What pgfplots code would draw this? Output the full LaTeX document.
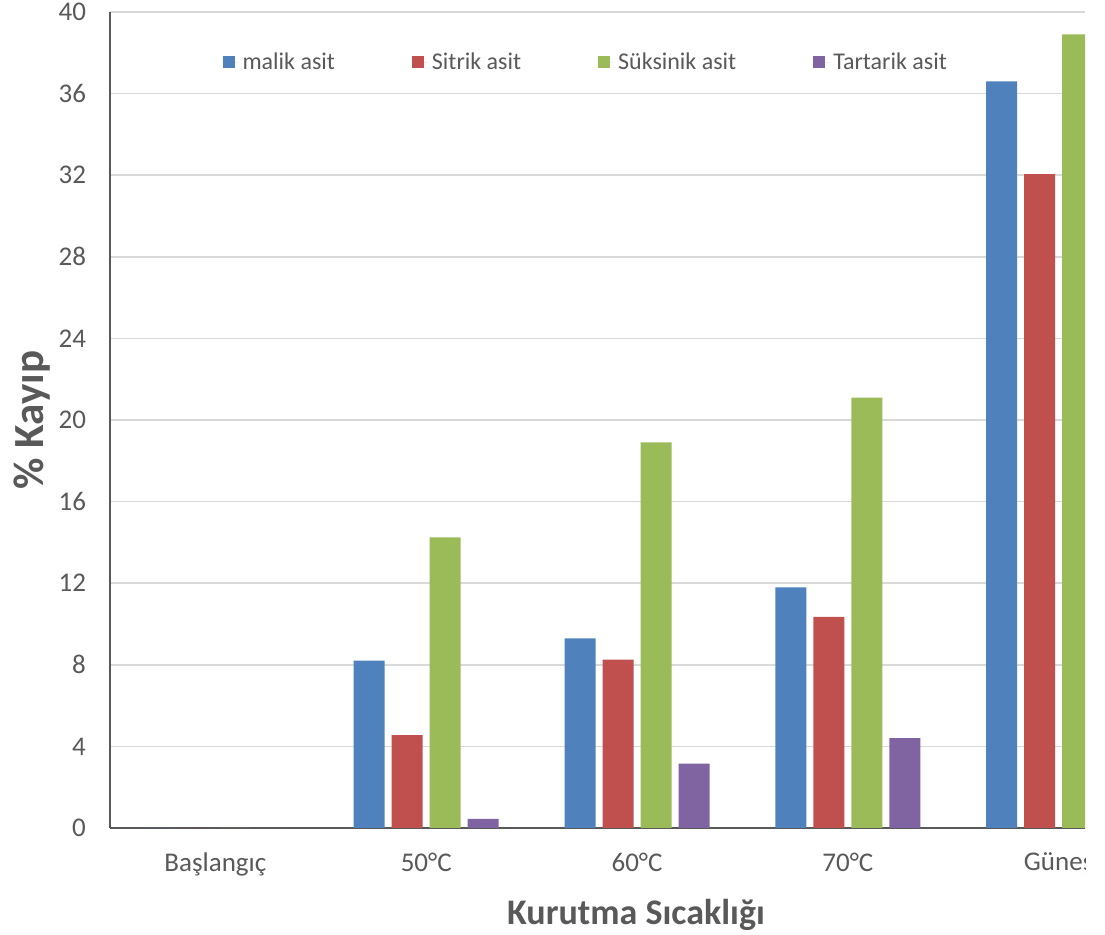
\documentclass[border=0pt]{standalone}
\usepackage{fontspec}
\setmainfont{Carlito}
\usepackage{pgfplots}
\pgfplotsset{compat=1.18}

\definecolor{cblue}{HTML}{4F81BD}
\definecolor{cred}{HTML}{C0504D}
\definecolor{cgreen}{HTML}{9BBB59}
\definecolor{cpurple}{HTML}{8064A2}
\definecolor{txt}{HTML}{595959}
\definecolor{gridc}{HTML}{D9D9D9}
\definecolor{axc}{HTML}{595959}

\begin{document}
\begin{tikzpicture}
\useasboundingbox (-55pt,-53.5pt) rectangle (497.5pt,414pt);
% the chart is trimmed on its right side
\clip (-55pt,-53.5pt) rectangle (487.5pt,414pt);
\begin{axis}[
  at={(0pt,0pt)}, anchor=south west,
  scale only axis, width=487.5pt, height=408pt,
  ybar=3.5pt, bar width=15.5pt,
  xmin=-0.5, xmax=4.125,
  ymin=0, ymax=40,
  ytick={0,4,...,40},
  xtick={0,1,2,3,4},
  xticklabels={Başlangıç,50°C,60°C,70°C,Güneş},
  axis x line*=bottom, axis y line*=left,
  axis line style={axc, line width=0.9pt},
  ymajorgrids, grid style={gridc, line width=0.75pt},
  major tick length=0pt,
  /pgf/number format/assume math mode=true,
  tick label style={font=\fontsize{13.5}{16}\selectfont, text=txt},
  yticklabel style={xshift=-8.5pt},
  xticklabel style={yshift=-9pt},
  ylabel={\% Kayıp},
  ylabel style={at={(axis description cs:-0.08,0.5)}, anchor=center,
    font=\bfseries\fontsize{21.5}{24}\selectfont, text=txt},
  xlabel={Kurutma Sıcaklığı},
  xlabel style={at={(axis description cs:0.5395,-0.106)}, anchor=center,
    font=\bfseries\fontsize{18}{22}\selectfont, text=txt},
  legend columns=4,
  legend style={draw=none, fill=none, inner sep=0pt,
    at={(axis description cs:0.115,0.9385)}, anchor=west,
    font=\fontsize{12}{14}\selectfont, text=txt,
    /tikz/every even column/.append style={column sep=36.5pt}},
  legend image code/.code={%
    \fill[#1] (0pt,-3pt) rectangle (6pt,3pt);
    \path (0pt,0pt) -- (8pt,0pt);},
]
\addplot[fill=cblue, draw=none]
  coordinates {(0,0) (1,8.2) (2,9.3) (3,11.8) (4,36.6)};
\addplot[fill=cred, draw=none]
  coordinates {(0,0) (1,4.55) (2,8.25) (3,10.35) (4,32.05)};
\addplot[fill=cgreen, draw=none]
  coordinates {(0,0) (1,14.25) (2,18.9) (3,21.1) (4,38.9)};
\addplot[fill=cpurple, draw=none]
  coordinates {(0,0) (1,0.45) (2,3.15) (3,4.4)};
\legend{malik asit, Sitrik asit, Süksinik asit, Tartarik asit}
\end{axis}
\end{tikzpicture}
\end{document}
